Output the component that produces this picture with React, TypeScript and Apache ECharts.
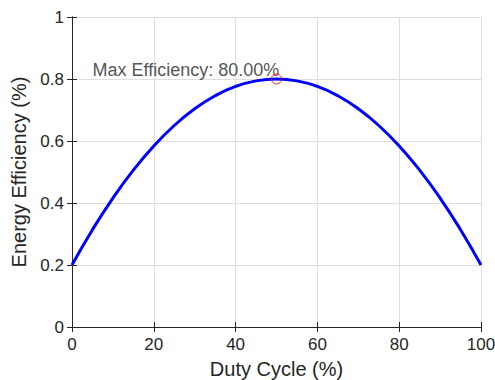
import React, { useEffect, useRef } from "react";
import * as echarts from "echarts";

const dutyCycle = [0, 5, 10, 15, 20, 25, 30, 35, 40, 45, 50, 55, 60, 65, 70, 75, 80, 85, 90, 95, 100];
const efficiency = [0.2, 0.314, 0.416, 0.506, 0.584, 0.65, 0.704, 0.746, 0.776, 0.794, 0.8, 0.794, 0.776, 0.746, 0.704, 0.65, 0.584, 0.506, 0.416, 0.314, 0.2];
const maxPoint = [50, 0.8];
const annotationPos = [5, 0.83];
const annotationText = "Max Efficiency: 80.00%";
const xTitle = "Duty Cycle (%)";
const yTitle = "Energy Efficiency (%)";

const TXT = "#262626";
const FONT = "Liberation Sans, Arial, sans-serif";

export default function App() {
  const ref = useRef<HTMLDivElement>(null);
  useEffect(() => {
    document.body.style.margin = "0";
    if (!ref.current) return;
    const chart = echarts.init(ref.current, undefined, { renderer: "svg" });
    const axisCommon = {
      type: "value" as const,
      axisLine: { show: true, lineStyle: { color: TXT, width: 1 } },
      axisTick: { show: true, inside: true, length: 5, lineStyle: { color: TXT } },
    };
    chart.setOption({
      animation: false,
      backgroundColor: "#ffffff",
      textStyle: { fontFamily: FONT },
      grid: { left: 72, top: 17, width: 409, height: 310, containLabel: false, outerBoundsMode: "none" },
      xAxis: [
        {
          ...axisCommon,
          position: "bottom",
          min: 0,
          max: 100,
          interval: 20,
          axisLabel: { color: TXT, fontSize: 17, margin: 9, fontFamily: FONT },
          splitLine: { show: true, lineStyle: { color: "#dedede", width: 1 } },
          name: xTitle,
          nameLocation: "middle",
          nameGap: 32,
          nameTextStyle: { color: TXT, fontSize: 20, fontFamily: FONT },
        },
        {
          ...axisCommon,
          position: "top",
          min: 0,
          max: 100,
          interval: 20,
          axisLabel: { show: false },
          splitLine: { show: false },
        },
      ],
      yAxis: [
        {
          ...axisCommon,
          position: "left",
          min: 0,
          max: 1,
          interval: 0.2,
          axisLabel: { color: TXT, fontSize: 17, margin: 8, fontFamily: FONT },
          splitLine: { show: true, lineStyle: { color: "#dedede", width: 1 } },
          name: yTitle,
          nameLocation: "middle",
          nameGap: 38,
          nameTextStyle: { color: TXT, fontSize: 20, fontFamily: FONT },
        },
        {
          ...axisCommon,
          position: "right",
          min: 0,
          max: 1,
          interval: 0.2,
          axisLabel: { show: false },
          splitLine: { show: false },
        },
      ],
      series: [
        {
          type: "line",
          data: dutyCycle.map((x, i) => [x, efficiency[i]]),
          smooth: true,
          showSymbol: false,
          lineStyle: { color: "#0000ff", width: 3 },
          z: 2,
        },
        {
          type: "scatter",
          data: [annotationPos],
          symbolSize: 0,
          label: {
            show: true,
            position: "right",
            distance: 0,
            formatter: annotationText,
            color: TXT,
            fontSize: 18,
            fontFamily: FONT,
          },
          z: 3,
        },
        {
          type: "scatter",
          data: [maxPoint],
          symbol: "circle",
          symbolSize: 10,
          itemStyle: { color: "rgba(0,0,0,0)", borderColor: "#ff0000", borderWidth: 1 },
          z: 5,
        },
      ],
    });
    return () => chart.dispose();
  }, []);
  return <div ref={ref} style={{ width: 495, height: 380 }} />;
}
